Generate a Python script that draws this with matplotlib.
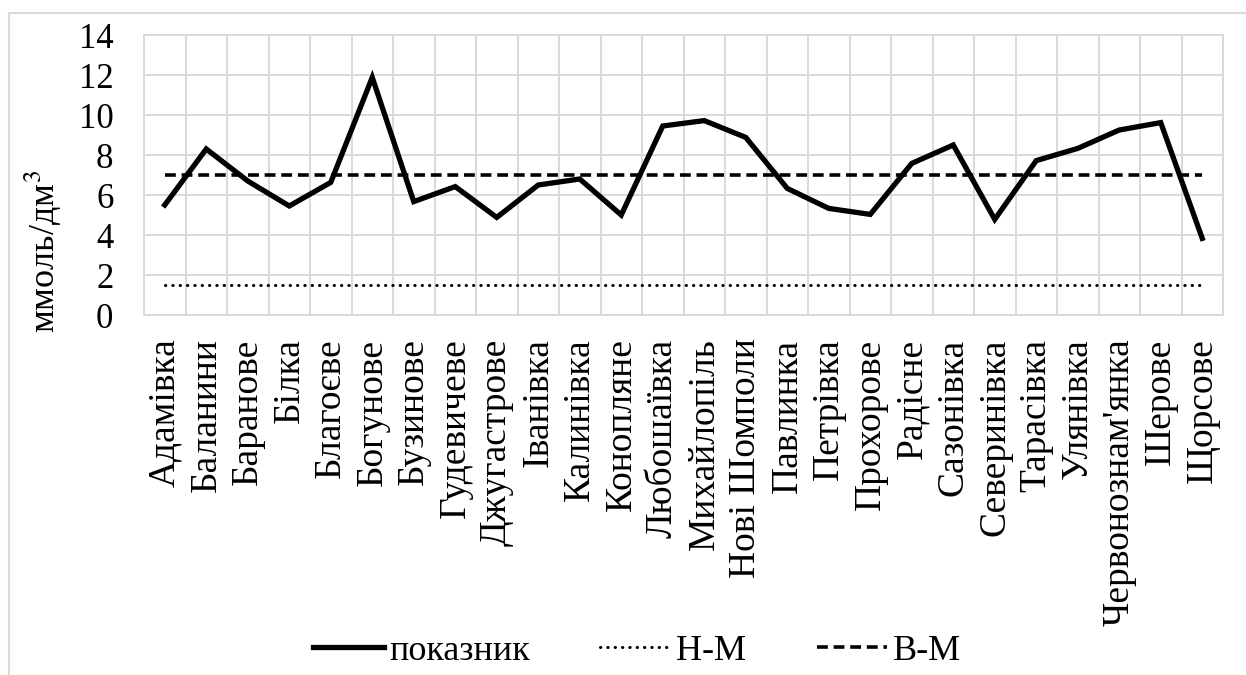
import numpy as np
import matplotlib.pyplot as plt
from matplotlib.patches import Rectangle

plt.rcParams['font.family'] = ['Liberation Serif', 'DejaVu Serif']
plt.rcParams['mathtext.fontset'] = 'stix'

sela = ['Адамівка', 'Баланини', 'Баранове', 'Білка', 'Благоєве', 'Богунове',
        'Бузинове', 'Гудевичеве', 'Джугастрове', 'Іванівка', 'Калинівка',
        'Коноплянe', 'Любошаївка', 'Михайлопіль', 'Нові Шомполи', 'Павлинка',
        'Петрівка', 'Прохорове', 'Радісне', 'Сазонівка', 'Северинівка',
        'Тарасівка', 'Улянівка', "Червонознам'янка", 'Шерове', 'Щорсове']
pokaznyk = [5.5, 8.3, 6.7, 5.45, 6.63, 11.88, 5.67, 6.42, 4.88, 6.5, 6.8, 5.0,
            9.45, 9.72, 8.88, 6.33, 5.33, 5.03, 7.58, 8.5, 4.78, 7.72, 8.33,
            9.25, 9.62, 3.83]
nyzhnia_mezha = 1.5
verkhnia_mezha = 7.0

x = np.arange(len(sela))
fig = plt.figure(figsize=(12.46, 6.75), dpi=100)
ax = fig.add_axes([144/1246, 1 - 315/675, (1223 - 144)/1246, 280/675])

sira = '#d9d9d9'
fig.patches.append(Rectangle((9/1246, -0.1), 1.2, 1 - 13/675 + 0.1,
                             transform=fig.transFigure, fill=False,
                             edgecolor=sira, linewidth=1.5))

ax.plot(x, pokaznyk, color='black', linewidth=3.8, label='показник',
        solid_joinstyle='miter')
ax.plot(x, [nyzhnia_mezha] * len(x), color='black', linewidth=2.2,
        linestyle=(0, (0.1, 2.3)), dash_capstyle='round', label='Н-М')
ax.plot(x, [verkhnia_mezha] * len(x), color='black', linewidth=2.6,
        linestyle=(0, (3, 1.6)), label='В-М')

ax.set_xlim(-0.5, len(sela) - 0.5)
ax.set_ylim(0, 14)
ax.set_yticks(np.arange(0, 15, 2))
ax.set_xticks(x)
ax.set_xticklabels(sela, rotation=90, fontsize=27)
ax.set_xticks(np.arange(-0.5, len(sela), 1), minor=True)
ax.tick_params(axis='y', labelsize=25, length=0, pad=22)
ax.tick_params(axis='x', which='both', length=0, pad=17)
ax.grid(axis='y', color=sira, linewidth=1.4)
ax.grid(axis='x', which='minor', color=sira, linewidth=1.4)
ax.set_axisbelow(True)
for s in ax.spines.values():
    s.set_color(sira)
    s.set_linewidth(1.4)

fig.text(43/1246, 1 - 252/675, 'ммоль/дм$^3$', rotation=90, fontsize=26,
         ha='center', va='center')

fig.legend(loc='center', bbox_to_anchor=(637/1246, 1 - 651/675), ncol=3,
           frameon=False, fontsize=26, handlelength=1.95, columnspacing=1.95,
           handletextpad=0.15, borderpad=0)

plt.savefig('out.png', dpi=100)
